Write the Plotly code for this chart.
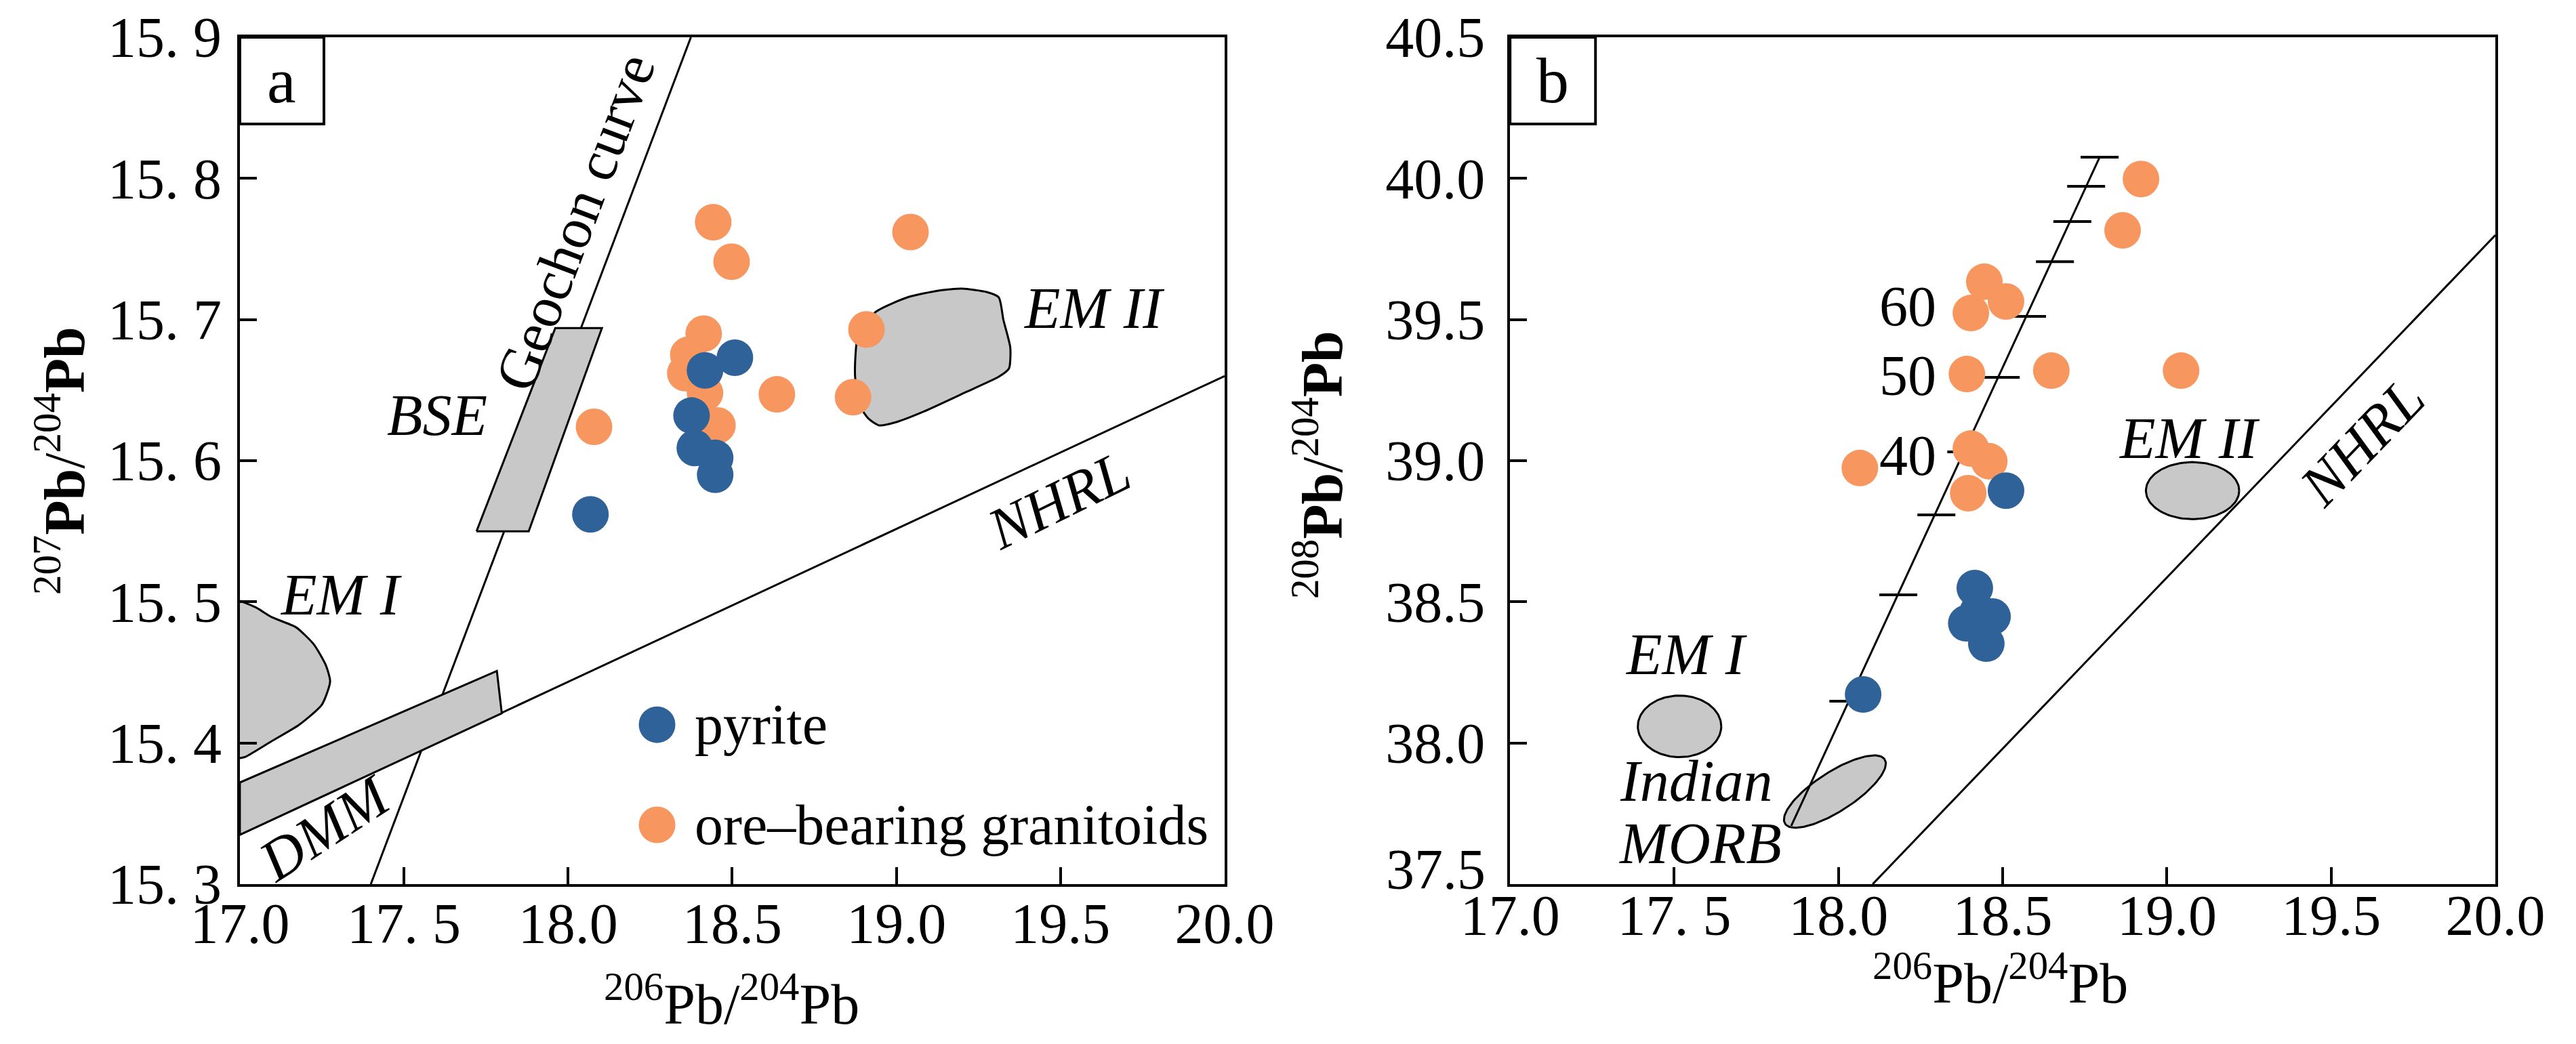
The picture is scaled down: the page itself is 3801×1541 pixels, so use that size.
import numpy as np
import plotly.graph_objects as go

# ---------------- data: panel a (207Pb/204Pb vs 206Pb/204Pb) ----------------
gran_a_x = [18.442, 18.498, 19.043, 18.413, 18.909, 18.366, 18.357, 18.417, 18.636, 18.868, 18.455, 18.079]
gran_a_y = [15.769, 15.741, 15.762, 15.690, 15.693, 15.675, 15.662, 15.648, 15.647, 15.645, 15.625, 15.624]
pyr_a_x = [18.417, 18.508, 18.376, 18.386, 18.448, 18.448, 18.068]
pyr_a_y = [15.664, 15.673, 15.632, 15.609, 15.602, 15.590, 15.562]

geochron_x = [17.399, 18.374]
geochron_y = [15.30, 15.90]
nhrl_a_x = [17.0, 20.0]
nhrl_a_y = [15.335, 15.660]
bse_x = [17.721, 17.880, 18.103, 17.961, 17.721]
bse_y = [15.550, 15.550, 15.694, 15.694, 15.550]
dmm_x = [17.0, 17.783, 17.798, 17.0, 17.0]
dmm_y = [15.372, 15.451, 15.421, 15.335, 15.372]
em1a_x = [17.0, 17.050, 17.097, 17.171, 17.225, 17.262, 17.275, 17.250, 17.180, 17.097, 17.017, 17.0]
em1a_y = [15.5007, 15.4959, 15.4892, 15.4820, 15.4700, 15.4551, 15.4435, 15.4272, 15.4128, 15.4013, 15.3902, 15.3893]
em2a_x = [18.874, 18.884, 18.938, 19.033, 19.128, 19.200, 19.275, 19.312, 19.326, 19.347, 19.343,
          19.312, 19.211, 19.085, 19.000, 18.948, 18.915, 18.890, 18.874]
em2a_y = [15.6605, 15.6898, 15.7056, 15.7157, 15.7205, 15.7219, 15.7195, 15.7157, 15.6998, 15.6802, 15.6653,
          15.6595, 15.6485, 15.6350, 15.6274, 15.6250, 15.6298, 15.6384, 15.6605]

# ---------------- data: panel b (208Pb/204Pb vs 206Pb/204Pb) ----------------
gran_b_x = [18.921, 18.865, 18.444, 18.510, 18.403, 18.391, 18.648, 19.043, 18.403, 18.459, 18.065, 18.395]
gran_b_y = [39.998, 39.816, 39.634, 39.564, 39.523, 39.307, 39.319, 39.319, 39.043, 38.998, 38.974, 38.885]
pyr_b_x = [18.510, 18.415, 18.469, 18.424, 18.389, 18.450, 18.075]
pyr_b_y = [38.894, 38.549, 38.448, 38.465, 38.424, 38.352, 38.172]

growth_x = [17.856, 18.795]
growth_y = [37.706, 40.075]
growth_tick_x = [18.030, 18.182, 18.298, 18.389, 18.494, 18.574, 18.659, 18.712, 18.754, 18.795]
growth_tick_y = [38.148, 38.525, 38.808, 39.031, 39.295, 39.511, 39.705, 39.847, 39.972, 40.075]
age_labels = ["40", "50", "60"]
age_label_x = [18.302, 18.302, 18.302]
age_label_y = [39.019, 39.302, 39.547]
nhrl_b_x = [18.104, 20.0]
nhrl_b_y = [37.5, 39.799]
# ellipses: centre x, centre y, semi-axis vector a (dx, dy), semi-axis vector b (dx, dy)
ell_em1 = [17.516, 38.059, 0.127, 0.0, 0.0, 0.109]
ell_em2 = [19.078, 38.894, 0.142, 0.0, 0.0, 0.101]
ell_morb = [17.989, 37.828, 0.1516, 0.1140, 0.0325, -0.0585]

# ---------------- axes ----------------
x_ticks = [17.0, 17.5, 18.0, 18.5, 19.0, 19.5, 20.0]
x_ticktext = ["17.0", "17. 5", "18.0", "18.5", "19.0", "19.5", "20.0"]
ya_ticks = [15.3, 15.4, 15.5, 15.6, 15.7, 15.8, 15.9]
ya_ticktext = ["15. 3", "15. 4", "15. 5", "15. 6", "15. 7", "15. 8", "15. 9"]
yb_ticks = [37.5, 38.0, 38.5, 39.0, 39.5, 40.0, 40.5]
yb_ticktext = ["", "38.0", "38.5", "39.0", "39.5", "40.0", "40.5"]
yb_bottom_label = "37.5"   # drawn slightly raised, as in the original

BLUE = "#2F6299"
ORANGE = "#F7975F"
GRAY = "#C8C8C8"
FONT = "Liberation Serif, Times New Roman, serif"
MS = 54


def ellipse(p, n=120):
    t = np.linspace(0, 2 * np.pi, n)
    return (p[0] + np.cos(t) * p[2] + np.sin(t) * p[4],
            p[1] + np.cos(t) * p[3] + np.sin(t) * p[5])


fig = go.Figure()


def line(x, y, xa, ya, w=3):
    fig.add_trace(go.Scatter(x=x, y=y, mode="lines", line=dict(color="black", width=w),
                             xaxis=xa, yaxis=ya, showlegend=False, hoverinfo="skip"))


def region(x, y, xa, ya, smooth=False):
    fig.add_trace(go.Scatter(x=x, y=y, mode="lines", fill="toself", fillcolor=GRAY,
                             line=dict(color="black", width=3, shape="spline" if smooth else "linear",
                                       smoothing=0.6),
                             xaxis=xa, yaxis=ya, showlegend=False, hoverinfo="skip"))


# panel a
line(geochron_x, geochron_y, "x", "y")
line(nhrl_a_x, nhrl_a_y, "x", "y")
region(bse_x, bse_y, "x", "y")
region(dmm_x, dmm_y, "x", "y")
region(em1a_x, em1a_y, "x", "y", smooth=True)
region(em2a_x, em2a_y, "x", "y", smooth=True)
fig.add_trace(go.Scatter(x=gran_a_x, y=gran_a_y, mode="markers", name="ore–bearing granitoids",
                         marker=dict(color=ORANGE, size=MS, line=dict(width=0)),
                         xaxis="x", yaxis="y", showlegend=False))
fig.add_trace(go.Scatter(x=pyr_a_x, y=pyr_a_y, mode="markers", name="pyrite",
                         marker=dict(color=BLUE, size=MS, line=dict(width=0)),
                         xaxis="x", yaxis="y", showlegend=False))

# panel b
line(nhrl_b_x, nhrl_b_y, "x2", "y2")
ex, ey = ellipse(ell_morb)
region(ex, ey, "x2", "y2")
line(growth_x, growth_y, "x2", "y2")
fig.add_trace(go.Scatter(x=growth_tick_x, y=growth_tick_y, mode="markers",
                         marker=dict(symbol="line-ew", size=40, line=dict(color="black", width=4)),
                         xaxis="x2", yaxis="y2", showlegend=False, hoverinfo="skip"))
for p in (ell_em1, ell_em2):
    ex, ey = ellipse(p)
    region(ex, ey, "x2", "y2")
fig.add_trace(go.Scatter(x=gran_b_x, y=gran_b_y, mode="markers", name="ore–bearing granitoids",
                         marker=dict(color=ORANGE, size=MS, line=dict(width=0)),
                         xaxis="x2", yaxis="y2", showlegend=False))
fig.add_trace(go.Scatter(x=pyr_b_x, y=pyr_b_y, mode="markers", name="pyrite",
                         marker=dict(color=BLUE, size=MS, line=dict(width=0)),
                         xaxis="x2", yaxis="y2", showlegend=False))

annotations = []


def txt(x, y, s, xref, yref, size=86, italic=False, angle=0, xanchor="center", yanchor="middle"):
    annotations.append(dict(x=x, y=y, xref=xref, yref=yref, text=s, showarrow=False,
                            textangle=angle, xanchor=xanchor, yanchor=yanchor,
                            font=dict(family=FONT, size=size, color="black",
                                      style="italic" if italic else "normal")))


# panel a labels
txt(18.021, 15.769, "Geochon curve", "x", "y", size=86, angle=-69.3)
txt(17.601, 15.632, "BSE", "x", "y", italic=True)
txt(17.308, 15.505, "EM I", "x", "y", italic=True)
txt(19.601, 15.708, "EM II", "x", "y", italic=True)
txt(19.496, 15.572, "NHRL", "x", "y", italic=True, angle=-26)
txt(17.260, 15.340, "DMM", "x", "y", italic=True, angle=-33)
txt(0.0427, 0.949, "a", "x domain", "y domain", size=96)
# legend (panel a)
legend_y = [15.413, 15.342]
legend_txt = ["pyrite", "ore–bearing granitoids"]
legend_col = [BLUE, ORANGE]
for ly, lt in zip(legend_y, legend_txt):
    txt(18.382, ly, lt, "x", "y", size=84, xanchor="left")

# panel b labels
txt(17.536, 38.314, "EM I", "x2", "y2", italic=True)
txt(17.567, 37.865, "Indian", "x2", "y2", italic=True)
txt(17.578, 37.644, "MORB", "x2", "y2", italic=True)
txt(19.067, 39.079, "EM II", "x2", "y2", italic=True)
txt(19.595, 39.067, "NHRL", "x2", "y2", italic=True, angle=-46)
for lx, ly, lt in zip(age_label_x, age_label_y, age_labels):
    txt(lx, ly, lt, "x2", "y2", size=84, xanchor="right")
txt(0.0434, 0.949, "b", "x2 domain", "y2 domain", size=96)
txt(0.5751, 0.172, yb_bottom_label, "paper", "paper", size=84, xanchor="right")

# axis titles
xt = "<sup>206</sup>Pb/<sup>204</sup>Pb"
txt(0.2818, 0.012, xt, "paper", "paper", size=84, yanchor="bottom")
txt(0.7745, 0.032, xt, "paper", "paper", size=84, yanchor="bottom")
txt(0.0216, 0.564, "<sup>207</sup><b>Pb</b>/<sup>204</sup><b>Pb</b>", "paper", "paper", size=84, angle=-90)
txt(0.5096, 0.560, "<sup>208</sup><b>Pb</b>/<sup>204</sup><b>Pb</b>", "paper", "paper", size=84, angle=-90)

shapes = [
    dict(type="rect", xref="x domain", yref="y domain", x0=0, x1=0.0854, y0=0.8976, y1=1.0,
         line=dict(color="black", width=4), layer="above"),
    dict(type="rect", xref="x2 domain", yref="y2 domain", x0=0, x1=0.0867, y0=0.8976, y1=1.0,
         line=dict(color="black", width=4), layer="above"),
]
for ly, lc in zip(legend_y, legend_col):
    shapes.append(dict(type="circle", xref="x", yref="y", xsizemode="pixel", ysizemode="pixel",
                       xanchor=18.271, yanchor=ly, x0=-27, x1=27, y0=-27, y1=27,
                       fillcolor=lc, line=dict(width=0), layer="above"))

axis_common = dict(showline=True, mirror=True, linecolor="black", linewidth=4, ticks="inside",
                   ticklen=25, tickwidth=4, tickcolor="black", showgrid=False, zeroline=False,
                   automargin=False,
                   tickfont=dict(family=FONT, size=84, color="black"), fixedrange=True)

fig.update_layout(
    width=3801, height=1541, autosize=False,
    margin=dict(l=0, r=0, t=0, b=0, pad=0),
    paper_bgcolor="white", plot_bgcolor="white",
    font=dict(family=FONT, color="black"),
    showlegend=False,
    xaxis=dict(domain=[0.0910, 0.4733], range=[17.0, 20.0], tickvals=x_ticks, ticktext=x_ticktext,
               anchor="y", ticklabelstandoff=-18, **axis_common),
    yaxis=dict(domain=[0.1583, 0.9695], range=[15.3, 15.9], tickvals=ya_ticks, ticktext=ya_ticktext,
               anchor="x", ticklabelstandoff=6, **axis_common),
    xaxis2=dict(domain=[0.5841, 0.9666], range=[17.0, 20.0], tickvals=x_ticks, ticktext=x_ticktext,
                anchor="y2", ticklabelstandoff=-30, **axis_common),
    yaxis2=dict(domain=[0.1583, 0.9695], range=[37.5, 40.5], tickvals=yb_ticks, ticktext=yb_ticktext,
                anchor="x2", ticklabelstandoff=16, **axis_common),
    annotations=annotations,
    shapes=shapes,
)

fig.write_html("out.html")
